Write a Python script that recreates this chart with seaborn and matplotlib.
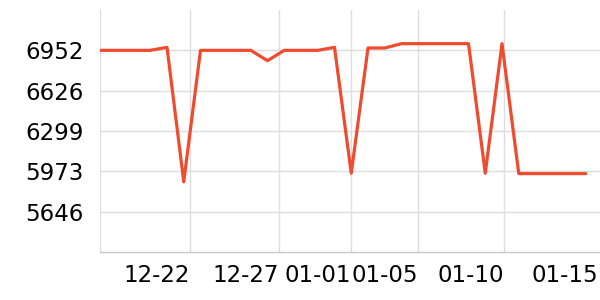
import matplotlib
matplotlib.use("Agg")
import matplotlib.pyplot as plt
import seaborn as sns
import pandas as pd
import numpy as np

# data
point_index = list(range(30))
values = [6952, 6952, 6952, 6952, 6976, 5888, 6952, 6952, 6952, 6952,
          6868, 6952, 6952, 6952, 6976, 5957, 6971, 6971, 7006, 7006,
          7006, 7006, 7006, 5957, 7006, 5954, 5954, 5954, 5954, 5954]
x_tick_pos = [0, 5.37, 10.71, 15.01, 18.99, 24.12, 29.73]
x_tick_labels = ["", "12-22", "12-27", "01-01", "01-05", "01-10", "01-15"]
y_tick_vals = [5646, 5972.5, 6299, 6625.5, 6952]
y_tick_labels = ["5646", "5973", "6299", "6626", "6952"]

df = pd.DataFrame({"idx": point_index, "value": values})

sns.set_theme(style="white")
plt.rcParams["font.family"] = ["DejaVu Sans"]

fig = plt.figure(figsize=(6, 3), dpi=100)
ax = fig.add_axes([100 / 600, 48 / 300, 500 / 600, 242 / 300])

sns.lineplot(data=df, x="idx", y="value", ax=ax, color="#ef4b2e", linewidth=2.3)

ax.set_xlim(0, 29.85)
ax.set_ylim(5319.5, 7278.5)
ax.set_yticks(y_tick_vals)
ax.set_yticklabels(y_tick_labels, fontsize=16.5)
ax.set_xticks(x_tick_pos)
ax.set_xticklabels(x_tick_labels, fontsize=16.5, ha="right")
ax.set_xlabel("")
ax.set_ylabel("")

ax.grid(True, color="#dddddd", linewidth=1)
for s in ["top", "right", "left"]:
    ax.spines[s].set_visible(False)
ax.spines["bottom"].set_color("#c8c8c8")
ax.spines["bottom"].set_linewidth(1)

ax.tick_params(axis="y", length=0, pad=12, colors="black")
ax.tick_params(axis="x", length=4, width=1, color="#c8c8c8", pad=5, labelcolor="black")
ax.xaxis.get_major_ticks()[-1].tick1line.set_visible(False)
ax.xaxis.get_gridlines()[-1].set_visible(False)

fig.savefig("out.png", dpi=100)
